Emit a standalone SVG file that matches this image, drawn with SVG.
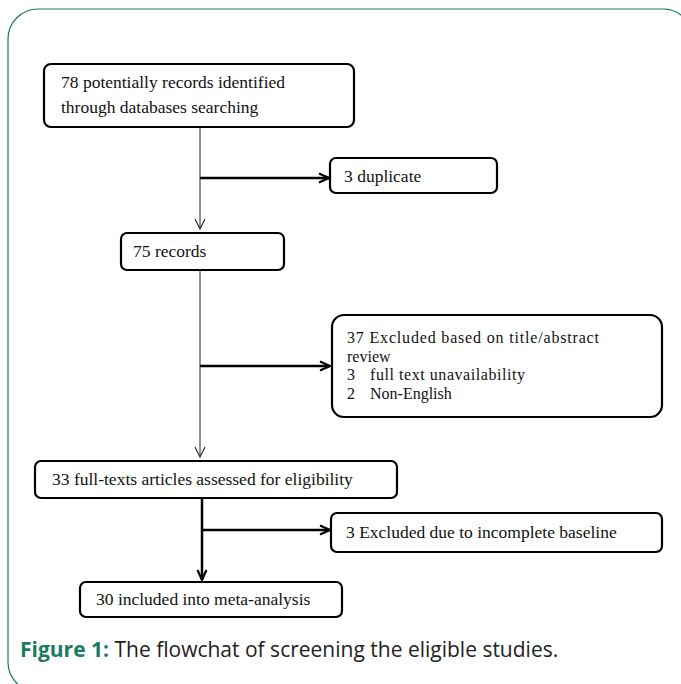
<svg xmlns="http://www.w3.org/2000/svg" width="681" height="684" viewBox="0 0 681 684">
<style>
.box{fill:#fff;stroke:#000;stroke-width:2.2}
.t{font-family:"Liberation Serif","Times New Roman",serif;font-size:17.5px;fill:#111}
.t2{font-family:"Liberation Serif","Times New Roman",serif;font-size:16px;fill:#111}
.thin{stroke:#222;stroke-width:1;fill:none}
.thick{stroke:#000;stroke-width:2.5;fill:none}
.cap{font-family:"Open Sans","Noto Sans",sans-serif;font-size:21px;fill:#222}
</style>
<defs>
<marker id="ah" viewBox="0 0 12 12" refX="11" refY="6" markerWidth="12" markerHeight="12" markerUnits="userSpaceOnUse" orient="auto">
<path d="M1,1 L11,6 L1,11" fill="none" stroke="#222" stroke-width="1.1"/>
</marker>
<marker id="ahb" viewBox="0 0 12 12" refX="11" refY="6" markerWidth="12" markerHeight="12" markerUnits="userSpaceOnUse" orient="auto">
<path d="M1,1.5 L11,6 L1,10.5" fill="none" stroke="#000" stroke-width="2.2"/>
</marker>
</defs>
<rect x="8" y="9" width="685" height="683" rx="30" ry="30" fill="#fff" stroke="#1b7a60" stroke-width="1.2"/>
<g id="connectors">
<line class="thin" x1="200" y1="128" x2="200" y2="229" marker-end="url(#ah)"/>
<line class="thick" x1="200" y1="178" x2="329" y2="178" marker-end="url(#ahb)"/>
<line class="thin" x1="200" y1="271" x2="200" y2="457" marker-end="url(#ah)"/>
<line class="thick" x1="200" y1="366" x2="330" y2="366" marker-end="url(#ahb)"/>
<line class="thick" x1="202" y1="499" x2="202" y2="580" marker-end="url(#ahb)"/>
<line class="thick" x1="202" y1="530" x2="330" y2="530" marker-end="url(#ahb)"/>
</g>
<g id="n1">
<rect class="box" x="44" y="64" width="310" height="63" rx="7"/>
<text class="t" x="61" y="88">78 potentially records identified</text>
<text class="t" x="61" y="113">through databases searching</text>
</g>
<g id="n2">
<rect class="box" x="330" y="158" width="167" height="35" rx="6"/>
<text class="t" x="344" y="182">3 duplicate</text>
</g>
<g id="n3">
<rect class="box" x="121" y="233" width="163" height="37" rx="6"/>
<text class="t" x="133" y="257">75 records</text>
</g>
<g id="n4">
<rect class="box" x="332" y="315" width="330" height="102" rx="12"/>
<text class="t2" x="347" y="343" textLength="252">37 Excluded based on title/abstract</text>
<text class="t2" x="347" y="361.5">review</text>
<text class="t2" x="347" y="380">3</text>
<text class="t2" x="370" y="380" textLength="155">full text unavailability</text>
<text class="t2" x="347" y="398.5">2</text>
<text class="t2" x="370" y="398.5">Non-English</text>
</g>
<g id="n5">
<rect class="box" x="35" y="461" width="362" height="37" rx="6"/>
<text class="t" x="52" y="485">33 full-texts articles assessed for eligibility</text>
</g>
<g id="n6">
<rect class="box" x="331" y="513" width="331" height="39" rx="6"/>
<text class="t" x="346" y="538">3 Excluded due to incomplete baseline</text>
</g>
<g id="n7">
<rect class="box" x="80" y="582" width="262" height="35" rx="6"/>
<text class="t" x="96" y="605">30 included into meta-analysis</text>
</g>
<text class="cap" x="20" y="657"><tspan fill="#1b7a60" font-weight="bold">Figure 1:</tspan> The flowchat of screening the eligible studies.</text>
</svg>
